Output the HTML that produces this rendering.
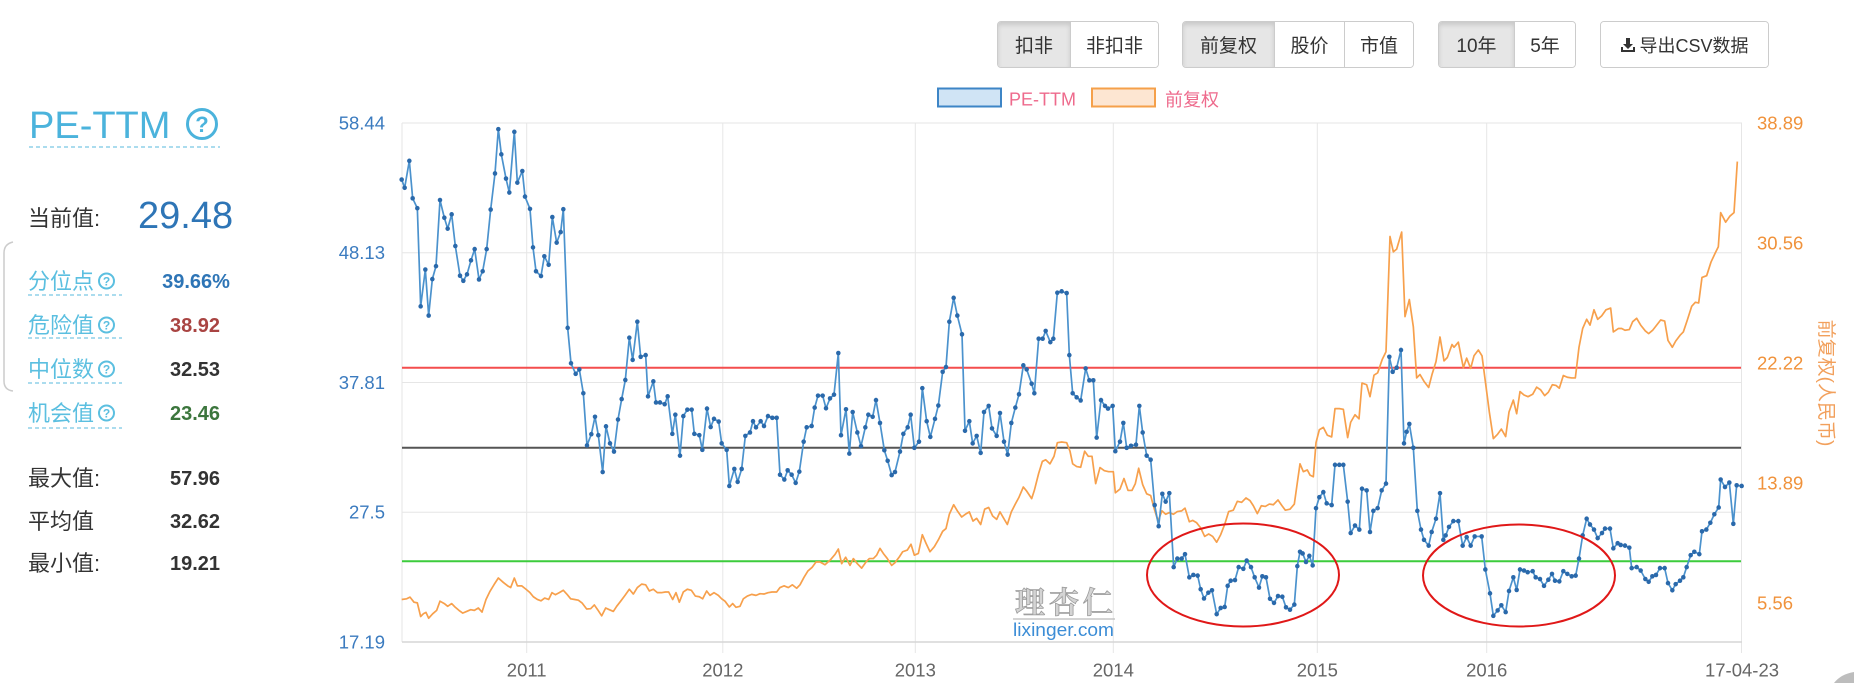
<!DOCTYPE html>
<html>
<head>
<meta charset="utf-8">
<style>
html,body{margin:0;padding:0;background:#fff;}
body{width:1854px;height:683px;overflow:hidden;position:relative;font-family:"Liberation Sans","Noto Sans CJK SC",sans-serif;}
.grp{position:absolute;top:21px;height:47px;display:flex;border:1px solid #ccc;border-radius:4px;overflow:hidden;box-sizing:border-box;background:#fff;}
.b{flex:none;height:100%;display:flex;align-items:center;justify-content:center;font-size:19px;color:#333;box-sizing:border-box;background:#fff;}
.b+.b{border-left:1px solid #ccc;}
.act{background:#e6e6e6;box-shadow:inset 0 3px 5px rgba(0,0,0,.125);}
svg{position:absolute;left:0;top:0;}
</style>
</head>
<body>

<div class="grp" style="left:997px;width:162px">
  <div class="b act" style="width:72px">扣非</div>
  <div class="b" style="width:88px">非扣非</div>
</div>
<div class="grp" style="left:1182px;width:232px">
  <div class="b act" style="width:91px">前复权</div>
  <div class="b" style="width:70px">股价</div>
  <div class="b" style="width:69px">市值</div>
</div>
<div class="grp" style="left:1438px;width:138px">
  <div class="b act" style="width:75px">10年</div>
  <div class="b" style="width:61px">5年</div>
</div>
<div class="grp" style="left:1600px;width:169px">
  <div class="b" style="width:167px;font-size:18px">
    <svg width="16" height="16" viewBox="0 0 16 16" style="position:static;margin-right:3px"><path d="M6 1h4v6h3l-5 5-5-5h3z" fill="#333"/><path d="M1 10v5h14v-5h-2v3H3v-3z" fill="#333"/></svg>导出CSV数据
  </div>
</div>

<svg width="1854" height="683" viewBox="0 0 1854 683" xmlns="http://www.w3.org/2000/svg" font-family="Liberation Sans, Noto Sans CJK SC, sans-serif">
  <!-- left panel -->
  <text x="29" y="138" font-size="38" fill="#4bb3dc">PE-TTM</text>
  <circle cx="202" cy="124" r="14.5" fill="none" stroke="#4bb3dc" stroke-width="3"/>
  <text x="202" y="132" font-size="22" font-weight="bold" fill="#4bb3dc" text-anchor="middle">?</text>
  <line x1="29" y1="147" x2="220" y2="147" stroke="#8fd0e8" stroke-width="1.5" stroke-dasharray="4 3"/>

  <text x="28" y="226" font-size="22" fill="#333">当前值:</text>
  <text x="138" y="228" font-size="38" fill="#2e75b6">29.48</text>

  <path d="M13 242 Q4 244 4 253 L4 381 Q4 390 13 391" fill="none" stroke="#ccc" stroke-width="1.5"/>

  <g font-size="22" fill="#5bbfe0">
    <text x="28" y="289">分位点</text>
    <text x="28" y="333">危险值</text>
    <text x="28" y="377">中位数</text>
    <text x="28" y="421">机会值</text>
  </g>
  <g fill="none" stroke="#5bbfe0" stroke-width="2">
    <circle cx="106.5" cy="281" r="7.5"/>
    <circle cx="106.5" cy="325" r="7.5"/>
    <circle cx="106.5" cy="369" r="7.5"/>
    <circle cx="106.5" cy="413" r="7.5"/>
  </g>
  <g font-size="12" font-weight="bold" fill="#5bbfe0" text-anchor="middle">
    <text x="106.5" y="285.5">?</text>
    <text x="106.5" y="329.5">?</text>
    <text x="106.5" y="373.5">?</text>
    <text x="106.5" y="417.5">?</text>
  </g>
  <g stroke="#8fd0e8" stroke-width="1.5" stroke-dasharray="4 3">
    <line x1="28" y1="295" x2="122" y2="295"/>
    <line x1="28" y1="338" x2="122" y2="338"/>
    <line x1="28" y1="383" x2="122" y2="383"/>
    <line x1="28" y1="428" x2="122" y2="428"/>
  </g>
  <g font-size="20" font-weight="bold" text-anchor="middle">
    <text x="196" y="288" fill="#2e75b6">39.66%</text>
    <text x="195" y="332" fill="#a94442">38.92</text>
    <text x="195" y="376" fill="#333">32.53</text>
    <text x="195" y="420" fill="#3c763d">23.46</text>
    <text x="195" y="485" fill="#333">57.96</text>
    <text x="195" y="528" fill="#333">32.62</text>
    <text x="195" y="570" fill="#333">19.21</text>
  </g>
  <g font-size="22" fill="#333">
    <text x="28" y="486">最大值:</text>
    <text x="28" y="529">平均值</text>
    <text x="28" y="571">最小值:</text>
  </g>

  <!-- legend -->
  <rect x="938" y="88.5" width="63" height="18" fill="#d0e4f5" stroke="#3d85c6" stroke-width="2"/>
  <text x="1009" y="105.5" font-size="18" fill="#ee6a8c">PE-TTM</text>
  <rect x="1092" y="88.5" width="63" height="18" fill="#fde6d2" stroke="#f5a04a" stroke-width="2"/>
  <text x="1165" y="106" font-size="18" fill="#ee6a8c">前复权</text>

  <!-- grid -->
  <g stroke="#e6e6e6" stroke-width="1">
    <line x1="402" y1="123" x2="1742" y2="123"/>
    <line x1="402" y1="252.75" x2="1742" y2="252.75"/>
    <line x1="402" y1="382.5" x2="1742" y2="382.5"/>
    <line x1="402" y1="512.25" x2="1742" y2="512.25"/>
    <line x1="402" y1="123" x2="402" y2="642"/>
    <line x1="526.7" y1="123" x2="526.7" y2="653"/>
    <line x1="722.8" y1="123" x2="722.8" y2="653"/>
    <line x1="915.3" y1="123" x2="915.3" y2="653"/>
    <line x1="1113.3" y1="123" x2="1113.3" y2="653"/>
    <line x1="1317.3" y1="123" x2="1317.3" y2="653"/>
    <line x1="1486.7" y1="123" x2="1486.7" y2="653"/>
    <line x1="1741.5" y1="123" x2="1741.5" y2="653"/>
  </g>
  <line x1="402" y1="642" x2="1742" y2="642" stroke="#d6d6d6" stroke-width="1.5"/>

  <!-- left axis labels -->
  <g font-size="18.5" fill="#3b7bbf" text-anchor="end">
    <text x="385" y="129.5">58.44</text>
    <text x="385" y="259.2">48.13</text>
    <text x="385" y="389">37.81</text>
    <text x="385" y="518.7">27.5</text>
    <text x="385" y="648.5">17.19</text>
  </g>
  <!-- right axis labels -->
  <g font-size="18.5" fill="#f0923b">
    <text x="1757" y="129.5">38.89</text>
    <text x="1757" y="249.5">30.56</text>
    <text x="1757" y="369.5">22.22</text>
    <text x="1757" y="489.5">13.89</text>
    <text x="1757" y="609.5">5.56</text>
  </g>
  <text x="1825.5" y="383" font-size="19" fill="#f2a05c" text-anchor="middle" dominant-baseline="central" transform="rotate(90 1825.5 383)">前复权(人民币)</text>

  <!-- x labels -->
  <g font-size="18.5" fill="#666" text-anchor="middle">
    <text x="526.7" y="676.5">2011</text>
    <text x="722.8" y="676.5">2012</text>
    <text x="915.3" y="676.5">2013</text>
    <text x="1113.3" y="676.5">2014</text>
    <text x="1317.3" y="676.5">2015</text>
    <text x="1486.7" y="676.5">2016</text>
    <text x="1742" y="676.5">17-04-23</text>
  </g>

  <!-- watermark -->
  <text x="1015" y="613" font-size="30" font-weight="bold" fill="#d4d4d4" stroke="#9a9a9a" stroke-width="0.8" letter-spacing="4" font-family="Noto Serif CJK SC, Noto Sans CJK SC, serif">理杏仁</text>
  <line x1="1013" y1="619" x2="1115" y2="619" stroke="#bbb" stroke-width="1.2"/>
  <text x="1013" y="636" font-size="18" fill="#3c8dd6" textLength="101" lengthAdjust="spacingAndGlyphs">lixinger.com</text>

  <!-- plot lines -->
  <line x1="402" y1="367.7" x2="1741" y2="367.7" stroke="#f44d4d" stroke-width="2"/>
  <line x1="402" y1="447.8" x2="1741" y2="447.8" stroke="#555" stroke-width="2"/>
  <line x1="402" y1="561.3" x2="1741" y2="561.3" stroke="#3ccc3c" stroke-width="2"/>

  <defs>
    <marker id="dot" markerUnits="userSpaceOnUse" markerWidth="20" markerHeight="20" refX="10" refY="10" viewBox="0 0 20 20">
      <circle cx="10" cy="10" r="6.8" fill="#2a69ab"/>
    </marker>
  </defs>

  <g transform="translate(400,115.5) scale(0.333333,0.34083)">
    <polyline fill="none" stroke="#f7a04c" stroke-width="1.7" vector-effect="non-scaling-stroke" stroke-linejoin="round" points="5,1420 20,1418 30,1413 42,1428 52,1430 62,1470 70,1462 78,1458 86,1475 98,1462 110,1452 120,1425 133,1432 143,1440 155,1432 165,1442 177,1452 188,1460 200,1455 212,1450 223,1452 235,1445 246,1457 258,1420 270,1396 283,1375 295,1357 310,1370 323,1380 332,1385 343,1357 352,1380 365,1380 378,1390 390,1400 400,1412 412,1420 423,1424 434,1416 446,1420 456,1400 466,1406 478,1400 490,1393 502,1406 512,1418 524,1420 535,1422 546,1430 560,1448 572,1447 583,1436 593,1450 605,1468 617,1445 628,1450 640,1455 650,1440 662,1425 675,1408 688,1390 700,1404 712,1385 725,1375 737,1377 748,1395 760,1390 772,1400 784,1400 796,1398 806,1398 818,1420 828,1400 838,1428 850,1398 862,1390 874,1393 886,1410 898,1412 908,1418 920,1395 930,1408 942,1400 955,1408 965,1418 975,1425 988,1442 998,1432 1008,1443 1020,1440 1030,1418 1042,1410 1055,1405 1068,1408 1080,1403 1092,1404 1104,1400 1116,1398 1130,1398 1140,1385 1152,1380 1165,1385 1177,1377 1190,1387 1200,1377 1212,1355 1224,1336 1236,1326 1248,1310 1260,1310 1275,1318 1290,1305 1305,1288 1315,1272 1325,1315 1337,1296 1350,1320 1360,1300 1372,1315 1385,1328 1398,1310 1408,1300 1420,1300 1430,1290 1440,1270 1450,1285 1462,1300 1475,1320 1485,1312 1498,1295 1508,1280 1522,1275 1533,1258 1543,1290 1555,1285 1567,1230 1578,1255 1590,1280 1603,1265 1615,1245 1628,1220 1638,1212 1648,1170 1661,1142 1672,1160 1685,1178 1696,1170 1708,1163 1719,1190 1730,1182 1742,1200 1754,1155 1766,1150 1778,1175 1790,1185 1800,1163 1810,1180 1822,1200 1834,1163 1846,1140 1857,1120 1870,1090 1880,1102 1895,1124 1903,1100 1916,1050 1927,1015 1937,1010 1950,1022 1962,1000 1972,960 1985,958 2000,960 2010,985 2018,1022 2030,1030 2042,1032 2054,985 2065,1000 2076,1000 2087,1080 2100,1033 2113,1042 2126,1045 2140,1045 2146,1107 2160,1096 2172,1065 2184,1100 2196,1100 2206,1080 2216,1035 2228,1083 2240,1110 2252,1115 2263,1155 2274,1190 2286,1160 2297,1170 2308,1165 2320,1170 2332,1162 2345,1160 2355,1152 2368,1192 2378,1188 2390,1195 2402,1210 2414,1235 2426,1228 2438,1235 2450,1252 2462,1230 2474,1200 2486,1162 2500,1158 2512,1132 2525,1135 2538,1122 2550,1130 2560,1145 2572,1168 2584,1145 2596,1147 2608,1140 2620,1142 2634,1128 2646,1145 2656,1158 2670,1155 2683,1140 2693,1070 2700,1022 2710,1045 2722,1040 2730,1055 2740,1060 2748,960 2758,922 2770,915 2782,938 2795,943 2805,860 2818,860 2830,862 2843,945 2852,900 2865,878 2877,890 2886,785 2900,790 2910,825 2922,762 2933,755 2947,715 2958,693 2970,355 2980,400 2990,392 3005,342 3015,590 3028,540 3040,620 3050,770 3060,760 3072,780 3086,798 3096,760 3108,722 3120,650 3132,720 3142,710 3156,672 3162,680 3175,665 3190,740 3200,712 3212,742 3222,705 3235,688 3246,705 3256,780 3268,870 3280,948 3293,935 3304,920 3317,942 3327,870 3340,835 3350,875 3360,810 3372,820 3384,825 3398,818 3410,797 3422,805 3434,822 3445,812 3457,790 3468,792 3478,800 3490,763 3502,768 3515,770 3526,770 3537,680 3548,625 3560,598 3570,615 3582,570 3593,598 3605,588 3618,570 3632,565 3640,635 3655,625 3665,625 3675,630 3688,628 3698,605 3710,595 3722,615 3736,632 3746,640 3758,630 3770,615 3782,600 3794,603 3804,660 3817,680 3827,662 3840,645 3850,635 3862,600 3875,560 3886,548 3896,550 3906,475 3920,470 3933,430 3945,405 3955,385 3962,285 3977,313 3990,295 4002,285 4012,135"/>

    <polyline fill="none" stroke="#4b92cd" stroke-width="1.7" vector-effect="non-scaling-stroke" stroke-linejoin="round" marker-start="url(#dot)" marker-mid="url(#dot)" marker-end="url(#dot)" points="5,188 14,212 28,133 38,243 52,272 62,560 76,452 86,587 97,480 108,442 120,248 133,300 143,332 155,290 166,383 180,470 190,485 201,466 213,425 224,392 237,481 248,457 260,392 272,276 285,170 295,40 304,114 318,185 328,226 343,48 352,197 367,163 375,238 390,274 399,387 408,457 423,471 433,413 446,438 457,298 470,373 482,342 490,275 503,623 513,727 527,758 538,745 550,815 561,968 574,935 585,884 595,938 608,1046 618,912 630,962 642,986 654,892 665,832 676,776 688,652 698,717 712,605 722,708 737,703 744,824 760,780 768,842 780,842 794,847 803,824 817,934 826,878 840,998 850,882 862,863 875,863 883,934 898,938 907,981 921,860 932,914 942,890 956,898 965,962 980,981 988,1087 1003,1037 1013,1075 1025,1037 1036,940 1050,930 1059,897 1068,915 1082,897 1092,911 1104,882 1117,887 1130,887 1140,1054 1153,1068 1163,1041 1175,1054 1187,1078 1198,1045 1211,957 1220,915 1235,911 1244,857 1254,822 1268,822 1278,859 1290,830 1302,819 1315,697 1323,938 1338,862 1348,992 1358,870 1372,930 1383,970 1396,915 1405,878 1418,884 1428,835 1440,902 1453,982 1463,1013 1475,1055 1485,1046 1500,986 1510,934 1523,915 1532,878 1543,975 1557,957 1567,800 1580,897 1591,943 1605,890 1615,851 1628,752 1638,738 1648,605 1661,535 1672,587 1686,642 1695,925 1708,897 1718,962 1730,940 1742,990 1752,870 1766,852 1776,918 1790,940 1800,873 1812,957 1823,995 1834,902 1846,857 1857,818 1870,733 1880,745 1895,787 1903,815 1916,655 1928,655 1937,632 1951,665 1960,655 1972,520 1985,516 2000,521 2008,703 2018,815 2030,827 2042,836 2057,742 2068,777 2080,777 2090,945 2103,835 2115,852 2124,860 2138,852 2146,985 2160,957 2170,902 2180,975 2193,969 2208,966 2218,852 2228,930 2240,998 2252,1010 2264,1143 2276,1205 2287,1110 2297,1133 2308,1108 2321,1325 2332,1300 2345,1300 2355,1287 2368,1355 2380,1348 2393,1350 2402,1390 2412,1417 2425,1400 2436,1393 2450,1463 2462,1445 2474,1442 2483,1380 2492,1365 2505,1363 2516,1325 2530,1330 2540,1306 2553,1325 2564,1355 2577,1385 2587,1352 2598,1355 2610,1418 2622,1430 2634,1410 2647,1412 2658,1443 2670,1450 2683,1435 2692,1322 2700,1280 2708,1285 2718,1310 2728,1292 2738,1320 2748,1152 2758,1120 2770,1105 2780,1138 2795,1143 2805,1025 2818,1025 2830,1025 2843,1133 2852,1225 2865,1203 2878,1215 2886,1095 2900,1100 2910,1222 2920,1160 2933,1152 2945,1100 2958,1080 2968,708 2978,752 2990,740 3003,688 3012,962 3020,928 3028,905 3040,975 3052,1160 3063,1215 3072,1245 3086,1262 3095,1222 3108,1183 3120,1108 3130,1245 3137,1232 3147,1207 3160,1190 3175,1190 3188,1262 3200,1237 3212,1262 3224,1235 3245,1235 3256,1332 3270,1402 3280,1468 3293,1452 3304,1437 3317,1457 3327,1395 3340,1355 3350,1392 3360,1332 3372,1335 3383,1340 3398,1337 3407,1355 3420,1360 3432,1380 3445,1362 3456,1345 3465,1365 3478,1367 3490,1337 3502,1345 3515,1352 3527,1350 3537,1300 3548,1232 3560,1183 3570,1200 3582,1215 3593,1240 3606,1225 3615,1212 3630,1212 3640,1270 3653,1255 3662,1260 3675,1262 3688,1268 3695,1328 3710,1325 3722,1335 3736,1360 3746,1368 3757,1352 3768,1348 3780,1328 3794,1328 3804,1372 3817,1393 3827,1375 3840,1365 3850,1355 3860,1325 3872,1290 3883,1280 3898,1287 3906,1220 3919,1215 3931,1195 3943,1170 3956,1150 3962,1068 3975,1090 3988,1077 4000,1198 4010,1085 4025,1087"/>
  </g>

  <!-- red ellipses -->
  <ellipse cx="1243" cy="575" rx="96" ry="51.5" fill="none" stroke="#e01818" stroke-width="2"/>
  <ellipse cx="1519" cy="575.5" rx="96" ry="51" fill="none" stroke="#e01818" stroke-width="2"/>

  <!-- corner blob -->
  <path d="M1834 683 Q1841 674 1854 672 L1854 683 Z" fill="#bdbdbd"/>
</svg>
</body>
</html>
